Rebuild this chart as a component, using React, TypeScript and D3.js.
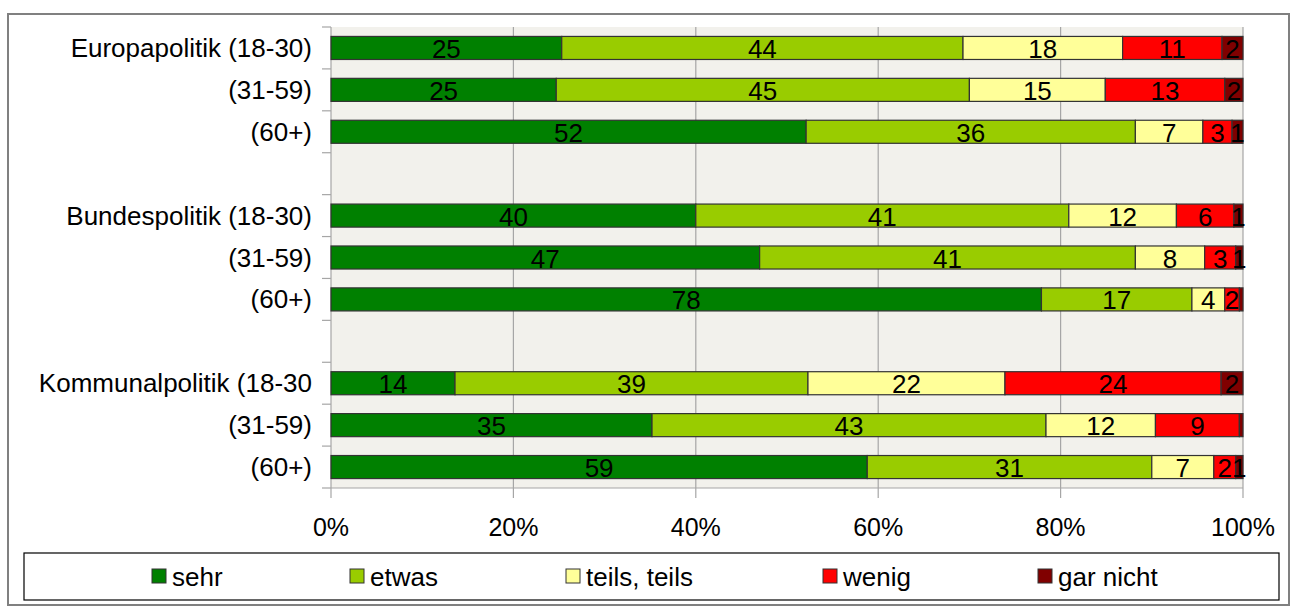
import { useRef, useEffect } from 'react';
import * as d3 from 'd3';

const rowLabels = [
  'Europapolitik (18-30)', '(31-59)', '(60+)', '',
  'Bundespolitik (18-30)', '(31-59)', '(60+)', '',
  'Kommunalpolitik (18-30', '(31-59)', '(60+)',
];

const seriesNames = ['sehr', 'etwas', 'teils, teils', 'wenig', 'gar nicht'];
const seriesColors = ['#008000', '#99cc00', '#ffff99', '#ff0000', '#800000'];

// values per row, in order of seriesNames (null = spacer row)
const sehr = [25.3, 24.7, 52.1, null, 40.0, 47.0, 77.9, null, 13.6, 35.2, 58.8];
const etwas = [44.0, 45.3, 36.1, null, 40.9, 41.2, 16.5, null, 38.7, 43.2, 31.2];
const teils = [17.5, 14.9, 7.4, null, 11.8, 7.6, 3.6, null, 21.6, 12.0, 6.8];
const wenig = [10.9, 13.1, 3.2, null, 6.3, 3.4, 1.6, null, 23.7, 9.2, 2.4];
const garNicht = [2.3, 2.0, 1.2, null, 1.0, 0.8, 0.4, null, 2.4, 0.4, 0.8];

const xTicks = [0, 20, 40, 60, 80, 100];

const W = 1295;
const H = 610;
const FONT = '"Liberation Sans", Arial, sans-serif';

export default function App() {
  const svgRef = useRef<SVGSVGElement | null>(null);

  useEffect(() => {
    const svg = d3.select(svgRef.current);
    svg.selectAll('*').remove();

    const plot = { left: 331, right: 1243, top: 27, bottom: 488 };

    // outer frame
    svg.append('rect')
      .attr('x', 8).attr('y', 14)
      .attr('width', 1281).attr('height', 591)
      .attr('fill', '#fff').attr('stroke', '#808080').attr('stroke-width', 2);

    const x = d3.scaleLinear().domain([0, 100]).range([plot.left, plot.right]);
    const y = d3.scaleBand<number>()
      .domain(d3.range(rowLabels.length))
      .range([plot.top, plot.bottom])
      .paddingInner(0.45).paddingOuter(0.225);
    const rowBand = d3.scaleBand<number>()
      .domain(d3.range(rowLabels.length))
      .range([plot.top, plot.bottom]);

    // plot background
    svg.append('rect')
      .attr('x', plot.left).attr('y', plot.top)
      .attr('width', plot.right - plot.left).attr('height', plot.bottom - plot.top)
      .attr('fill', '#f2f1ec');

    // vertical grid lines
    svg.append('g').selectAll('line')
      .data(xTicks)
      .join('line')
      .attr('x1', d => x(d)).attr('x2', d => x(d))
      .attr('y1', plot.top).attr('y2', plot.bottom + 10)
      .attr('stroke', '#a6a6a6').attr('stroke-width', 1.2);

    // bottom axis
    svg.append('line')
      .attr('x1', plot.left).attr('x2', plot.right)
      .attr('y1', plot.bottom).attr('y2', plot.bottom)
      .attr('stroke', '#a6a6a6').attr('stroke-width', 1.2);

    // left ticks at row boundaries
    const bounds = d3.range(rowLabels.length + 1).map(i =>
      i < rowLabels.length ? rowBand(i)! : plot.bottom);
    svg.append('g').selectAll('line')
      .data(bounds)
      .join('line')
      .attr('x1', plot.left - 9).attr('x2', plot.left)
      .attr('y1', d => d).attr('y2', d => d)
      .attr('stroke', '#a6a6a6').attr('stroke-width', 1.2);

    // x tick labels
    svg.append('g').selectAll('text')
      .data(xTicks)
      .join('text')
      .attr('x', d => x(d)).attr('y', 536)
      .attr('text-anchor', 'middle')
      .attr('font-family', FONT).attr('font-size', 25).attr('fill', '#000')
      .text(d => `${d}%`);

    // row labels
    svg.append('g').selectAll('text')
      .data(rowLabels)
      .join('text')
      .attr('x', 312)
      .attr('y', (_, i) => rowBand(i)! + rowBand.bandwidth() / 2 + 9)
      .attr('text-anchor', 'end')
      .attr('font-family', FONT).attr('font-size', 26).attr('fill', '#000')
      .text(d => d);

    // stacked bars
    const series = [sehr, etwas, teils, wenig, garNicht];
    const bars = svg.append('g');
    rowLabels.forEach((_, i) => {
      if (sehr[i] === null) return;
      let acc = 0;
      series.forEach((s, k) => {
        const v = s[i] as number;
        const x0 = x(acc);
        const x1 = x(acc + v);
        acc += v;
        bars.append('rect')
          .attr('x', x0).attr('y', y(i)!)
          .attr('width', x1 - x0).attr('height', y.bandwidth())
          .attr('fill', seriesColors[k])
          .attr('stroke', '#333').attr('stroke-width', 1.2);
      });
    });
    // value labels drawn on top
    const labels = svg.append('g');
    rowLabels.forEach((_, i) => {
      if (sehr[i] === null) return;
      let acc = 0;
      series.forEach((s) => {
        const v = s[i] as number;
        const cx = x(acc + v / 2);
        acc += v;
        if (Math.round(v) < 1) return;
        labels.append('text')
          .attr('x', cx).attr('y', y(i)! + y.bandwidth() / 2 + 10)
          .attr('text-anchor', 'middle')
          .attr('font-family', FONT).attr('font-size', 26).attr('fill', '#000')
          .text(Math.round(v));
      });
    });

    // legend
    svg.append('rect')
      .attr('x', 24).attr('y', 553)
      .attr('width', 1255).attr('height', 47)
      .attr('fill', '#fff').attr('stroke', '#000').attr('stroke-width', 1.2);
    const legendX = [152, 350, 566, 823, 1038];
    const lg = svg.append('g').selectAll('g')
      .data(seriesNames)
      .join('g')
      .attr('transform', (_, k) => `translate(${legendX[k]},576)`);
    lg.append('rect')
      .attr('x', 0).attr('y', -7).attr('width', 14).attr('height', 14)
      .attr('fill', (_, k) => seriesColors[k]).attr('stroke', '#333').attr('stroke-width', 1);
    lg.append('text')
      .attr('x', 20).attr('y', 10)
      .attr('font-family', FONT).attr('font-size', 26).attr('fill', '#000')
      .text(d => d);
  }, []);

  return (
    <svg ref={svgRef} width={W} height={H} style={{ position: 'absolute', left: 0, top: 0 }} />
  );
}
